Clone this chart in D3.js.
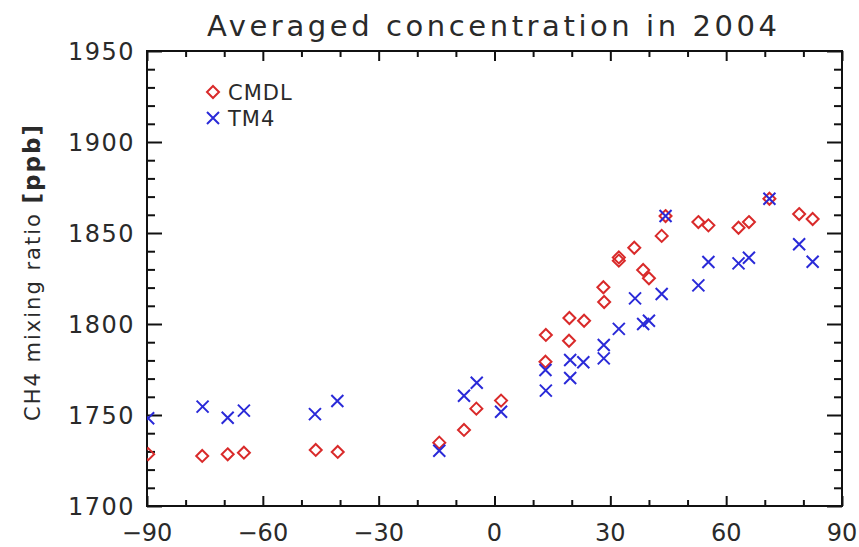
<!DOCTYPE html>
<html>
<head>
<meta charset="utf-8">
<script src="https://cdn.jsdelivr.net/npm/d3@7"></script>
<style>
  html, body { margin: 0; padding: 0; background: #fff; }
  svg { display: block; }
  text { font-family: "DejaVu Sans", "Open Sans", sans-serif; fill: #2a2a2a; }
</style>
</head>
<body>
<svg id="chart" width="859" height="547"></svg>
<script>
// Latitude (deg) and 2004 mean CH4 mixing ratio (ppb) at CMDL stations
const cmdlLat = [-89.7, -75.7, -69.1, -64.9, -46.3, -40.6, -14.3, -7.9, -4.7, 1.7,
  13.2, 13.3, 19.4, 19.3, 23.2, 28.2, 28.4, 32.2, 32.2, 36.2, 38.5, 40.0, 43.3, 44.3,
  52.8, 55.4, 63.2, 65.9, 71.2, 78.9, 82.4];
const cmdlVal = [1728.5, 1727.5, 1728.4, 1729.3, 1730.8, 1729.7, 1734.8, 1741.8, 1753.5, 1757.9,
  1779.3, 1794.0, 1803.3, 1790.8, 1801.8, 1820.2, 1812.1, 1836.6, 1834.8, 1841.9, 1829.7, 1825.1, 1848.4, 1859.3,
  1856.0, 1854.2, 1852.9, 1856.0, 1868.8, 1860.4, 1857.7];

// TM4 model values sampled at the station locations
const tm4Lat = [-89.7, -75.6, -69.1, -64.9, -46.5, -40.7, -14.3, -7.9, -4.6, 1.7,
  13.2, 13.3, 19.6, 19.6, 23.0, 28.3, 28.3, 32.2, 36.4, 38.5, 40.0, 43.3, 44.3,
  52.8, 55.4, 63.2, 65.9, 71.2, 78.9, 82.4];
const tm4Val = [1748.2, 1754.6, 1748.5, 1752.4, 1750.5, 1757.7, 1730.4, 1760.6, 1767.7, 1751.8,
  1774.7, 1763.4, 1780.2, 1770.3, 1779.0, 1788.5, 1781.1, 1797.3, 1814.1, 1800.0, 1801.8, 1816.5, 1859.3,
  1821.2, 1834.1, 1833.3, 1836.4, 1868.8, 1843.8, 1834.2];

const xMajor = [-90, -60, -30, 0, 30, 60, 90];
const yMajor = [1700, 1750, 1800, 1850, 1900, 1950];
const seriesNames = ["CMDL", "TM4"];

const titleText = "Averaged concentration in 2004";
const yLabelText = "CH4 mixing ratio ";
const yUnitText = "[ppb]";

const RED = "#d92a2a";
const BLUE = "#2a2ad8";

const box = { left: 147, right: 842, top: 51, bottom: 506 };
const svg = d3.select("#chart");

const x = d3.scaleLinear().domain([-90, 90]).range([box.left, box.right]);
const y = d3.scaleLinear().domain([1700, 1950]).range([box.bottom, box.top]);

const xMinor = d3.range(-90, 91, 10);
const yMinor = d3.range(1700, 1951, 10);

// Inward-pointing ticks on all four sides
function ticksOn(axis, vals, len) {
  return axis.tickValues(vals).tickSizeInner(-len).tickSizeOuter(0).tickFormat("");
}
function styleAxis(g) {
  g.select(".domain").remove();
  g.selectAll(".tick line").attr("stroke", "#111").attr("stroke-width", 2);
}
const sides = [
  [() => d3.axisBottom(x), `translate(0,${box.bottom})`, xMinor.filter(v => v % 30 !== 0), xMajor, 6, 10],
  [() => d3.axisTop(x), `translate(0,${box.top})`, xMinor.filter(v => v % 30 !== 0), xMajor, 6, 10],
  [() => d3.axisLeft(y), `translate(${box.left},0)`, yMinor.filter(v => v % 50 !== 0), yMajor, 8, 15],
  [() => d3.axisRight(y), `translate(${box.right},0)`, yMinor.filter(v => v % 50 !== 0), yMajor, 8, 15]
];
sides.forEach(([mk, tr, minor, major, lenMinor, lenMajor]) => {
  svg.append("g").attr("transform", tr).call(ticksOn(mk(), minor, lenMinor)).call(styleAxis);
  svg.append("g").attr("transform", tr).call(ticksOn(mk(), major, lenMajor)).call(styleAxis);
});

// Tick labels
svg.append("g").selectAll("text").data(xMajor).join("text")
  .attr("x", d => x(d)).attr("y", 541)
  .attr("text-anchor", "middle").attr("font-size", 24)
  .text(d => d < 0 ? "\u2212" + Math.abs(d) : d);
svg.append("g").selectAll("text").data(yMajor).join("text")
  .attr("x", 135).attr("y", d => y(d) + 8.5)
  .attr("text-anchor", "end").attr("font-size", 24).attr("letter-spacing", 1.5)
  .text(d => d);

// Frame
svg.append("rect").attr("x", box.left).attr("y", box.top)
  .attr("width", box.right - box.left).attr("height", box.bottom - box.top)
  .attr("fill", "none").attr("stroke", "#111").attr("stroke-width", 2);

// Markers, clipped to the plot box
svg.append("clipPath").attr("id", "plotclip").append("rect")
  .attr("x", box.left).attr("y", box.top)
  .attr("width", box.right - box.left).attr("height", box.bottom - box.top);

const diamond = (r) => `M0,${-r}L${r},0L0,${r}L${-r},0Z`;
const cross = (r) => `M${-r},${-r}L${r},${r}M${-r},${r}L${r},${-r}`;

const plot = svg.append("g").attr("clip-path", "url(#plotclip)");
plot.append("g").selectAll("path").data(d3.range(cmdlLat.length)).join("path")
  .attr("transform", i => `translate(${x(cmdlLat[i])},${y(cmdlVal[i])})`)
  .attr("d", diamond(6)).attr("fill", "none").attr("stroke", RED).attr("stroke-width", 2);
plot.append("g").selectAll("path").data(d3.range(tm4Lat.length)).join("path")
  .attr("transform", i => `translate(${x(tm4Lat[i])},${y(tm4Val[i])})`)
  .attr("d", cross(6)).attr("fill", "none").attr("stroke", BLUE).attr("stroke-width", 2);

// Legend
const legend = svg.append("g");
legend.append("path").attr("transform", "translate(213,92)").attr("d", diamond(6))
  .attr("fill", "none").attr("stroke", RED).attr("stroke-width", 2);
legend.append("path").attr("transform", "translate(213,118)").attr("d", cross(6))
  .attr("fill", "none").attr("stroke", BLUE).attr("stroke-width", 2);
legend.append("text").attr("x", 228).attr("y", 100).attr("font-size", 21).attr("letter-spacing", 1).text(seriesNames[0]);
legend.append("text").attr("x", 228).attr("y", 126).attr("font-size", 21).attr("letter-spacing", 1).text(seriesNames[1]);

// Title
svg.append("text").attr("x", 207).attr("y", 36)
  .attr("font-size", 29).attr("textLength", 570).attr("lengthAdjust", "spacing")
  .text(titleText);

// Y-axis label
const yl = svg.append("text")
  .attr("transform", "translate(40,273) rotate(-90)")
  .attr("text-anchor", "middle").attr("font-size", 21)
  .attr("textLength", 296).attr("lengthAdjust", "spacing");
yl.append("tspan").text(yLabelText);
yl.append("tspan").attr("font-weight", "bold").attr("font-size", 23).text(yUnitText);
</script>
</body>
</html>
